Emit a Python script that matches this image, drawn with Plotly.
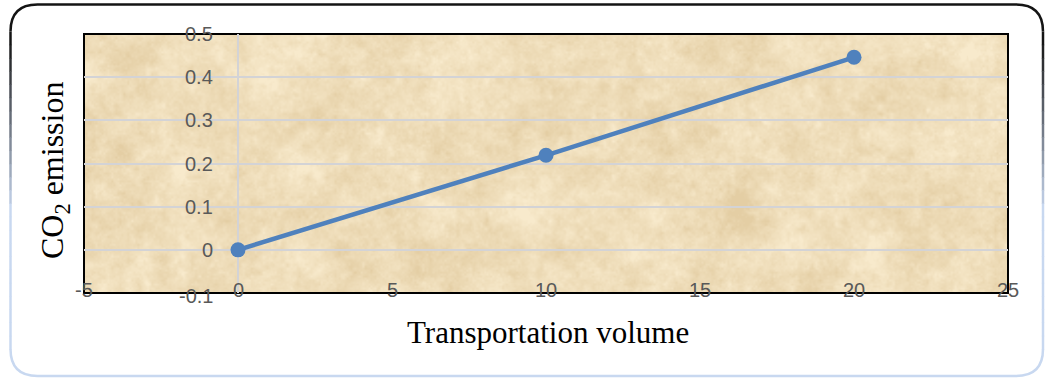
import base64
import struct
import zlib

import numpy as np
import plotly.graph_objects as go

# ---- data -------------------------------------------------------------
volume = [0, 10, 20]
emission = [0, 0.219, 0.446]

x_ticks = [-5, 0, 5, 10, 15, 20, 25]
x_tick_text = ["-5", "0", "5", "10", "15", "20", "25"]
y_ticks = [-0.1, 0, 0.1, 0.2, 0.3, 0.4, 0.5]
y_tick_text = ["-0.1", "0", "0.1", "0.2", "0.3", "0.4", "0.5"]

# ---- page geometry (pixels) ------------------------------------------
W, H = 1045, 379
PL, PR, PT, PB = 84, 1008, 34, 293  # plot area edges


def px(x):
    return (x - PL) / (PR - PL)


def py(y):
    return (PB - y) / (PB - PT)


# ---- parchment texture as an inline PNG -------------------------------
def parchment_png(w, h, seed=7):
    rng = np.random.default_rng(seed)
    field = np.zeros((h, w))
    for cell, amp in [(45, 0.8), (20, 0.7), (9, 0.6), (4, 0.45), (2, 0.3)]:
        gh, gw = h // cell + 2, w // cell + 2
        g = rng.normal(size=(gh, gw))
        yy = np.linspace(0, gh - 1.001, h)
        xx = np.linspace(0, gw - 1.001, w)
        y0, x0 = yy.astype(int), xx.astype(int)
        fy, fx = (yy - y0)[:, None], (xx - x0)[None, :]
        a = g[y0][:, x0]
        b = g[y0][:, x0 + 1]
        c = g[y0 + 1][:, x0]
        d = g[y0 + 1][:, x0 + 1]
        field += amp * ((a * (1 - fx) + b * fx) * (1 - fy) + (c * (1 - fx) + d * fx) * fy)
    field = (field - field.mean()) / field.std()
    light = np.array([248, 234, 204], float)
    dark = np.array([228, 206, 164], float)
    t = np.clip(0.45 + 0.17 * field, 0, 1)[..., None]
    rgb = (dark * t + light * (1 - t)).astype(np.uint8)
    raw = b"".join(b"\x00" + rgb[r].tobytes() for r in range(h))

    def chunk(tag, data):
        body = tag + data
        return struct.pack(">I", len(data)) + body + struct.pack(">I", zlib.crc32(body) & 0xFFFFFFFF)

    png = b"\x89PNG\r\n\x1a\n"
    png += chunk(b"IHDR", struct.pack(">IIBBBBB", w, h, 8, 2, 0, 0, 0))
    png += chunk(b"IDAT", zlib.compress(raw, 9))
    png += chunk(b"IEND", b"")
    return "data:image/png;base64," + base64.b64encode(png).decode()


texture = parchment_png(PR - PL, PB - PT)

# ---- figure -----------------------------------------------------------
fig = go.Figure()
fig.add_trace(
    go.Scatter(
        x=volume,
        y=emission,
        mode="lines+markers",
        line=dict(color="#4F81BD", width=4.5),
        marker=dict(color="#4F81BD", size=15),
        showlegend=False,
        cliponaxis=False,
    )
)

grid = "#D3D3D6"
fig.update_xaxes(
    range=[-5, 25],
    showgrid=False,
    zeroline=True,
    zerolinecolor=grid,
    zerolinewidth=1.5,
    showticklabels=False,
    ticks="",
    showline=False,
)
fig.update_yaxes(
    range=[-0.1, 0.5],
    dtick=0.1,
    tick0=0,
    showgrid=True,
    gridcolor=grid,
    gridwidth=1.5,
    zeroline=True,
    zerolinecolor=grid,
    zerolinewidth=1.5,
    showticklabels=False,
    ticks="",
    showline=False,
)

tick_font = dict(family="Liberation Sans, Arial, sans-serif", size=20, color="#595959")
annotations = []
for v, t in zip(y_ticks, y_tick_text):
    annotations.append(
        dict(x=0, y=v, xref="x", yref="y", text=t, showarrow=False, xanchor="right",
             yanchor="middle", xshift=-23, yshift=(-3 if v < 0 else 0), font=tick_font)
    )
for v, t in zip(x_ticks, x_tick_text):
    annotations.append(
        dict(x=v, y=-0.1, xref="x", yref="y", text=t, showarrow=False, xanchor="center",
             yanchor="middle", yshift=3, font=tick_font)
    )

title_font = dict(family="Liberation Serif, Times New Roman, serif", size=31, color="#000000")
annotations.append(
    dict(x=px(547.5), y=py(332), xref="paper", yref="paper", text="Transportation volume",
         showarrow=False, xanchor="center", yanchor="middle", font=title_font)
)
annotations.append(
    dict(x=px(54), y=py(171), xref="paper", yref="paper", text="CO<sub>2</sub> emission",
         showarrow=False, xanchor="center", yanchor="middle", textangle=-90,
         font=dict(family=title_font["family"], size=32, color="#000000"))
)

# ---- outer rounded frame, dark at the top fading to light blue ---------
shapes = []
L, R, T, B, RAD = 10.5, 1043, 4.5, 376, 27


def mix(t):
    c0 = np.array([20, 20, 20])
    c1 = np.array([200, 216, 240])
    c = (c0 * (1 - t) + c1 * t).astype(int)
    return "rgb(%d,%d,%d)" % tuple(c)


def seg_path(points):
    d = "M %f,%f" % (px(points[0][0]), py(points[0][1]))
    for x, y in points[1:]:
        d += " L %f,%f" % (px(x), py(y))
    return d


# top edge with both upper corners
top = "M %f,%f Q %f,%f %f,%f L %f,%f Q %f,%f %f,%f" % (
    px(L), py(T + RAD), px(L), py(T), px(L + RAD), py(T),
    px(R - RAD), py(T), px(R), py(T), px(R), py(T + RAD),
)
shapes.append(dict(type="path", path=top, xref="paper", yref="paper",
                   line=dict(color="#141414", width=2.5), layer="above"))

# side edges as short segments with a colour ramp
n = 24
ys = np.linspace(T + RAD, B - RAD, n + 1)
for i in range(n):
    ymid = (ys[i] + ys[i + 1]) / 2
    t = float(np.clip((ymid - 40) / 170, 0, 1))
    for xe in (L, R):
        shapes.append(dict(type="path", path=seg_path([(xe, ys[i]), (xe, ys[i + 1] + 0.5)]),
                           xref="paper", yref="paper",
                           line=dict(color=mix(t), width=2.5), layer="above"))

bottom = "M %f,%f Q %f,%f %f,%f L %f,%f Q %f,%f %f,%f" % (
    px(L), py(B - RAD), px(L), py(B), px(L + RAD), py(B),
    px(R - RAD), py(B), px(R), py(B), px(R), py(B - RAD),
)
shapes.append(dict(type="path", path=bottom, xref="paper", yref="paper",
                   line=dict(color=mix(1.0), width=2.5), layer="above"))

# plot-area border
shapes.append(dict(type="rect", x0=0, x1=1, y0=0, y1=1, xref="paper", yref="paper",
                   line=dict(color="#000000", width=2), layer="below"))

fig.update_layout(
    width=W,
    height=H,
    margin=dict(l=PL, r=W - PR, t=PT, b=H - PB),
    paper_bgcolor="#FFFFFF",
    plot_bgcolor="rgba(0,0,0,0)",
    annotations=annotations,
    shapes=shapes,
    images=[dict(source=texture, xref="paper", yref="paper", x=0, y=1, sizex=1, sizey=1,
                 xanchor="left", yanchor="top", sizing="stretch", layer="below")],
    showlegend=False,
)

fig.write_html("out.html")
